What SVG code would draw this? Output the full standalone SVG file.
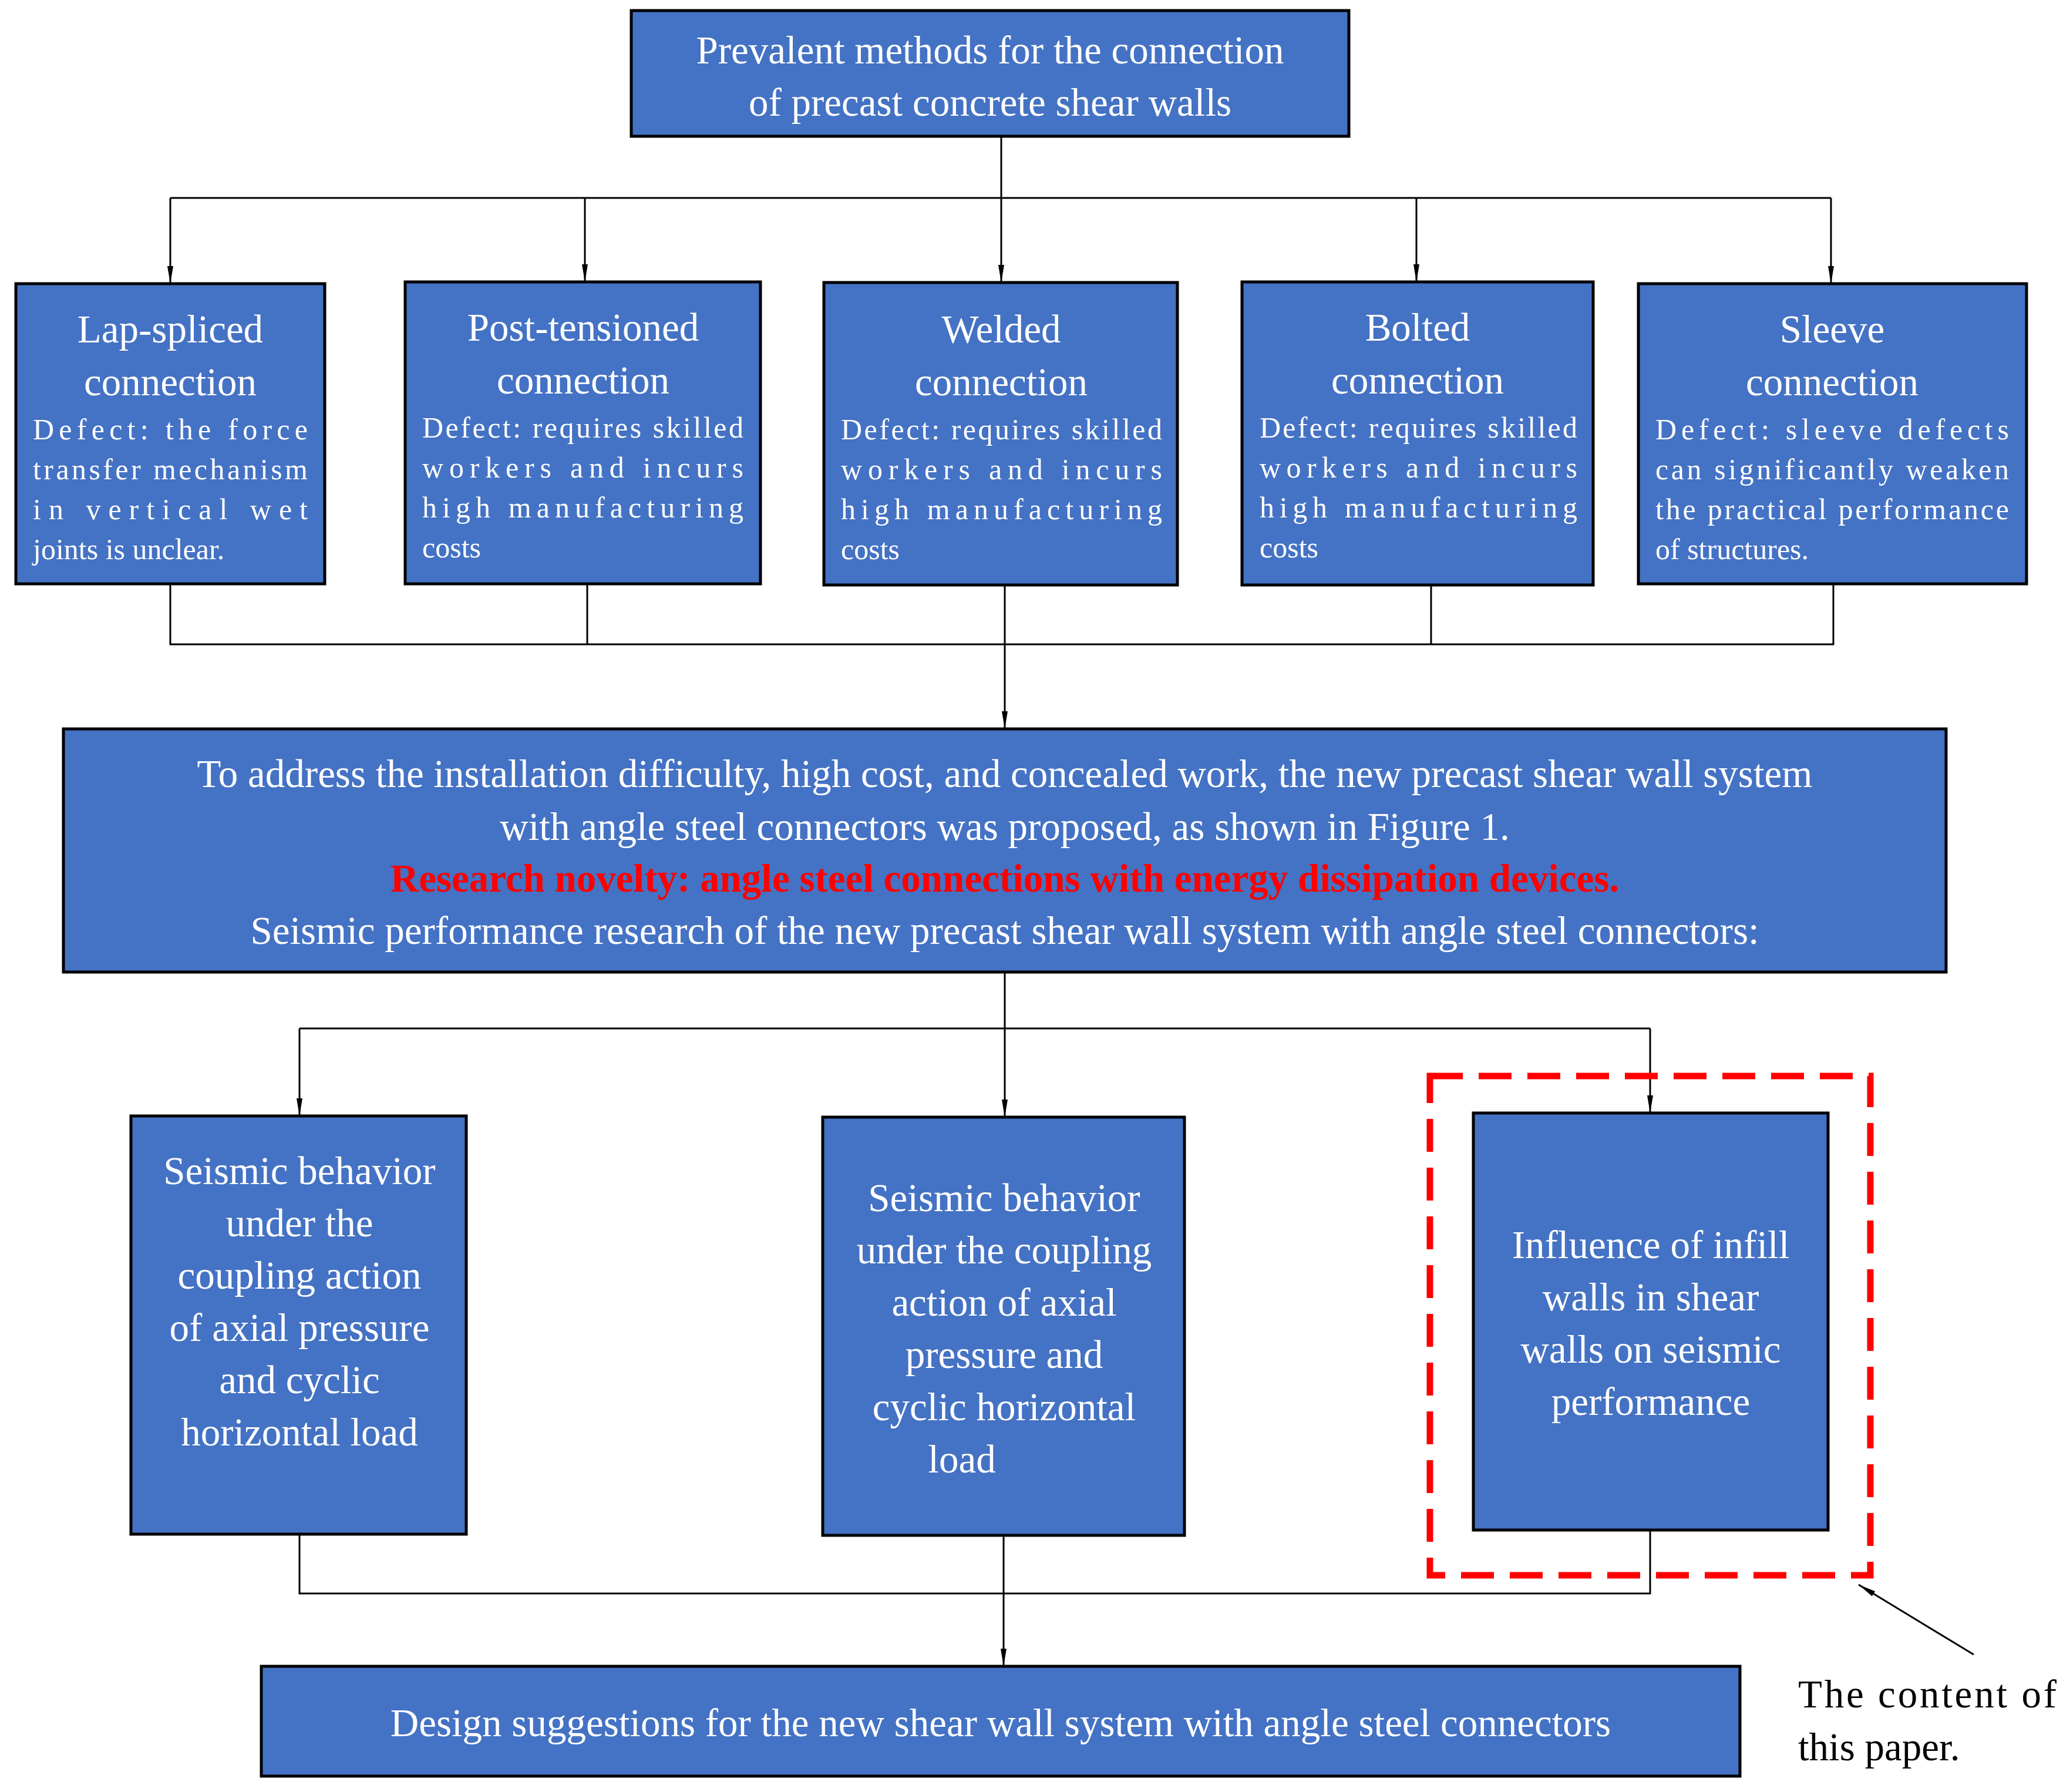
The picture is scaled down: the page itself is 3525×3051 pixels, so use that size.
<svg xmlns="http://www.w3.org/2000/svg" width="3525" height="3051" viewBox="0 0 3525 3051">
<style>
.b{fill:#4472C4;stroke:#000;stroke-width:5}
.t{font-family:"Liberation Serif",serif;fill:#fff;font-size:67px;text-anchor:middle}
.d{font-family:"Liberation Serif",serif;fill:#fff;font-size:50px}
.c{fill:none;stroke:#000;stroke-width:3}
</style>
<defs><marker id="a" viewBox="0 0 10 10" refX="10" refY="5" markerWidth="8" markerHeight="22" markerUnits="userSpaceOnUse" orient="auto-start-reverse" preserveAspectRatio="none"><path d="M0,0L10,5L0,10z" fill="#000"/></marker>
<marker id="m" viewBox="0 0 10 10" refX="10" refY="5" markerWidth="30" markerHeight="10" markerUnits="userSpaceOnUse" orient="auto" preserveAspectRatio="none"><path d="M0,0L10,5L0,10z" fill="#000"/></marker></defs>
<rect width="3525" height="3051" fill="#fff"/>
<g id="connectors">
<path class="c" d="M1705,232V337M290,337H3118"/>
<path class="c" marker-end="url(#m)" d="M290,337V483"/>
<path class="c" marker-end="url(#m)" d="M996,337V480"/>
<path class="c" marker-end="url(#m)" d="M1705,337V481"/>
<path class="c" marker-end="url(#m)" d="M2412,337V480"/>
<path class="c" marker-end="url(#m)" d="M3118,337V483"/>
<path class="c" d="M290,994V1097H3122V994M1000,994V1097M2437,994V1097"/>
<path class="c" marker-end="url(#m)" d="M1711,994V1241"/>
<path class="c" d="M1711,1655V1751M510,1751H2810"/>
<path class="c" marker-end="url(#m)" d="M510,1751V1900"/>
<path class="c" marker-end="url(#m)" d="M1711,1751V1902"/>
<path class="c" marker-end="url(#m)" d="M2810,1751V1895"/>
<path class="c" d="M510,2612V2713H2810V2605"/>
<path class="c" marker-end="url(#m)" d="M1709,2614V2837"/>
<path class="c" marker-end="url(#m)" d="M3361,2817L3165,2698"/>
</g>
<g id="top"><rect class="b" x="1075" y="18" width="1222" height="214"/>
<text class="t" x="1686" y="108">Prevalent methods for the connection</text>
<text class="t" x="1686" y="197">of precast concrete shear walls</text></g>
<g id="n1"><rect class="b" x="27" y="483" width="526" height="511"/>
<text class="t" x="290" y="583">Lap-spliced</text><text class="t" x="290" y="673">connection</text>
<text class="d" x="56" y="748" textLength="468" lengthAdjust="spacing">Defect:  the  force</text>
<text class="d" x="56" y="816" textLength="468" lengthAdjust="spacing">transfer mechanism</text>
<text class="d" x="56" y="884" textLength="468" lengthAdjust="spacing">in   vertical   wet</text>
<text class="d" x="56" y="952">joints is unclear.</text></g>
<g id="n2"><rect class="b" x="690" y="480" width="605" height="514"/>
<text class="t" x="993" y="580">Post-tensioned</text><text class="t" x="993" y="670">connection</text>
<text class="d" x="719" y="745" textLength="547" lengthAdjust="spacing">Defect: requires skilled</text>
<text class="d" x="719" y="813" textLength="547" lengthAdjust="spacing">workers   and   incurs</text>
<text class="d" x="719" y="881" textLength="547" lengthAdjust="spacing">high    manufacturing</text>
<text class="d" x="719" y="949">costs</text></g>
<g id="n3"><rect class="b" x="1403" y="481" width="602" height="515"/>
<text class="t" x="1705" y="583">Welded</text><text class="t" x="1705" y="673">connection</text>
<text class="d" x="1432" y="748" textLength="547" lengthAdjust="spacing">Defect: requires skilled</text>
<text class="d" x="1432" y="816" textLength="547" lengthAdjust="spacing">workers   and   incurs</text>
<text class="d" x="1432" y="884" textLength="547" lengthAdjust="spacing">high    manufacturing</text>
<text class="d" x="1432" y="952">costs</text></g>
<g id="n4"><rect class="b" x="2115" y="480" width="598" height="516"/>
<text class="t" x="2414" y="580">Bolted</text><text class="t" x="2414" y="670">connection</text>
<text class="d" x="2145" y="745" textLength="541" lengthAdjust="spacing">Defect: requires skilled</text>
<text class="d" x="2145" y="813" textLength="541" lengthAdjust="spacing">workers   and   incurs</text>
<text class="d" x="2145" y="881" textLength="541" lengthAdjust="spacing">high    manufacturing</text>
<text class="d" x="2145" y="949">costs</text></g>
<g id="n5"><rect class="b" x="2790" y="483" width="661" height="511"/>
<text class="t" x="3120" y="583">Sleeve</text><text class="t" x="3120" y="673">connection</text>
<text class="d" x="2819" y="748" textLength="602" lengthAdjust="spacing">Defect:    sleeve   defects</text>
<text class="d" x="2819" y="816" textLength="602" lengthAdjust="spacing">can significantly weaken</text>
<text class="d" x="2819" y="884" textLength="602" lengthAdjust="spacing">the practical performance</text>
<text class="d" x="2819" y="952">of structures.</text></g>
<g id="main"><rect class="b" x="108" y="1241" width="3206" height="414"/>
<text class="t" x="1711" y="1340">To address the installation difficulty, high cost, and concealed work, the new precast shear wall system</text>
<text class="t" x="1711" y="1430">with angle steel connectors was proposed, as shown in Figure 1.</text>
<text class="t" x="1711" y="1518" style="fill:#f00;font-weight:bold">Research novelty: angle steel connections with energy dissipation devices.</text>
<text class="t" x="1711" y="1607">Seismic performance research of the new precast shear wall system with angle steel connectors:</text></g>
<g id="l"><rect class="b" x="223" y="1900" width="571" height="712"/>
<text class="t" x="510" y="2016">Seismic behavior</text><text class="t" x="510" y="2105">under the</text><text class="t" x="510" y="2194">coupling action</text><text class="t" x="510" y="2283">of axial pressure</text><text class="t" x="510" y="2372">and cyclic</text><text class="t" x="510" y="2461">horizontal load</text></g>
<g id="m2"><rect class="b" x="1401" y="1902" width="616" height="712"/>
<text class="t" x="1710" y="2062">Seismic behavior</text><text class="t" x="1710" y="2151">under the coupling</text><text class="t" x="1710" y="2240">action of axial</text><text class="t" x="1710" y="2329">pressure and</text><text class="t" x="1710" y="2418">cyclic horizontal</text><text class="t" x="1638" y="2507">load</text></g>
<g id="r"><rect class="b" x="2509" y="1895" width="604" height="710"/>
<text class="t" x="2811" y="2142">Influence of infill</text><text class="t" x="2811" y="2231">walls in shear</text><text class="t" x="2811" y="2320">walls on seismic</text><text class="t" x="2811" y="2409">performance</text></g>
<rect x="2435" y="1832" width="750" height="850" fill="none" stroke="#f00" stroke-width="11" stroke-dasharray="56,27"/>
<g id="bottom"><rect class="b" x="445" y="2837" width="2518" height="187"/>
<text class="t" x="1704" y="2956">Design suggestions for the new shear wall system with angle steel connectors</text></g>
<g id="note"><text class="t" style="fill:#000;text-anchor:start" x="3062" y="2907" textLength="440" lengthAdjust="spacing">The content of</text>
<text class="t" style="fill:#000;text-anchor:start" x="3062" y="2997">this paper.</text></g>
</svg>
